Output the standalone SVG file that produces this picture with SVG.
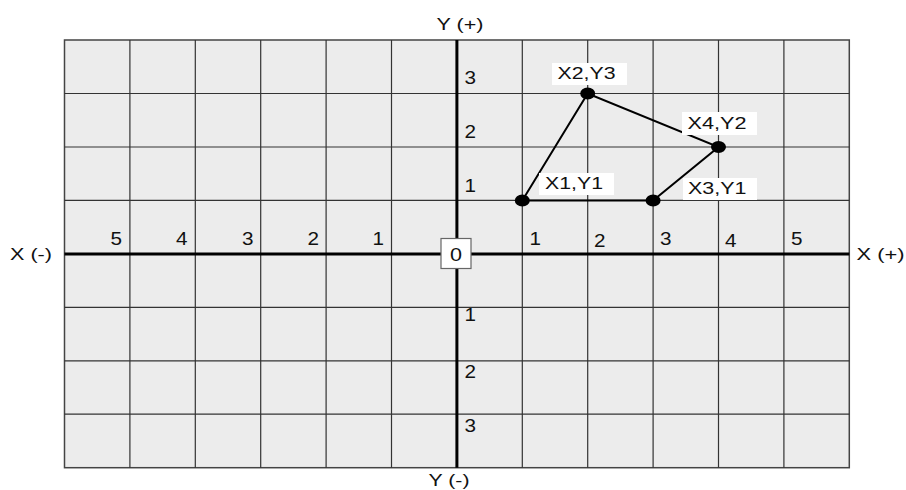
<svg xmlns="http://www.w3.org/2000/svg" width="906" height="490" viewBox="0 0 906 490">
<style>
.grid{stroke:#333;stroke-width:1.2;fill:none}
.axis{stroke:#000;stroke-width:3;fill:none}
.edge{stroke:#000;stroke-width:2;fill:none}
.dot{fill:#000}
.t{font-family:"Liberation Sans",Arial,sans-serif;fill:#111}
.n{font-size:18px}
.l{font-size:17px}
.lb{fill:#fff;stroke:none}
</style>
<rect width="906" height="490" fill="#fff"/>
<g id="grid">
<rect x="64.5" y="40" width="784.8" height="427.7" fill="#ececec" stroke="#444" stroke-width="1.5"/>
<path class="grid" d="M129.9 40V467.7M195.3 40V467.7M260.7 40V467.7M326.1 40V467.7M391.5 40V467.7M522.3 40V467.7M587.7 40V467.7M653.1 40V467.7M718.5 40V467.7M783.9 40V467.7M64.5 93.5H849.3M64.5 147H849.3M64.5 200.4H849.3M64.5 307.3H849.3M64.5 360.8H849.3M64.5 414.2H849.3"/>
<path class="axis" d="M456.9 40V467.7M64.5 253.9H849.3"/>
</g>
<g id="axis-labels" class="t l">
<text x="436.5" y="30" textLength="47" lengthAdjust="spacingAndGlyphs">Y (+)</text>
<text x="428.5" y="486" textLength="41" lengthAdjust="spacingAndGlyphs">Y (-)</text>
<text x="10" y="260" textLength="42" lengthAdjust="spacingAndGlyphs">X (-)</text>
<text x="856.5" y="260" textLength="48" lengthAdjust="spacingAndGlyphs">X (+)</text>
</g>
<g id="x-numbers" class="t n">
<text x="122" y="245" text-anchor="end" textLength="11.5" lengthAdjust="spacingAndGlyphs">5</text>
<text x="187.5" y="245" text-anchor="end" textLength="11.5" lengthAdjust="spacingAndGlyphs">4</text>
<text x="253.5" y="245" text-anchor="end" textLength="11.5" lengthAdjust="spacingAndGlyphs">3</text>
<text x="319" y="245" text-anchor="end" textLength="11.5" lengthAdjust="spacingAndGlyphs">2</text>
<text x="384" y="245" text-anchor="end" textLength="11.5" lengthAdjust="spacingAndGlyphs">1</text>
<text x="529.5" y="245" textLength="11.5" lengthAdjust="spacingAndGlyphs">1</text>
<text x="594" y="246.5" textLength="11.5" lengthAdjust="spacingAndGlyphs">2</text>
<text x="660" y="245" textLength="11.5" lengthAdjust="spacingAndGlyphs">3</text>
<text x="725" y="246.5" textLength="11.5" lengthAdjust="spacingAndGlyphs">4</text>
<text x="791" y="245" textLength="11.5" lengthAdjust="spacingAndGlyphs">5</text>
</g>
<g id="y-numbers" class="t n">
<text x="464.5" y="84" textLength="11.5" lengthAdjust="spacingAndGlyphs">3</text>
<text x="464.5" y="137.5" textLength="11.5" lengthAdjust="spacingAndGlyphs">2</text>
<text x="464.5" y="192" textLength="11.5" lengthAdjust="spacingAndGlyphs">1</text>
<text x="464.5" y="321" textLength="11.5" lengthAdjust="spacingAndGlyphs">1</text>
<text x="464.5" y="378" textLength="11.5" lengthAdjust="spacingAndGlyphs">2</text>
<text x="464.5" y="431.5" textLength="11.5" lengthAdjust="spacingAndGlyphs">3</text>
</g>
<g id="origin">
<rect x="441" y="238.5" width="30" height="30" fill="#fff" stroke="#666" stroke-width="1.2"/>
<text class="t n" x="450" y="260.5" textLength="12" lengthAdjust="spacingAndGlyphs">0</text>
</g>
<g id="connectors">
<path class="edge" d="M522.3 200.4L587.7 93.5L718.5 147L653.1 200.4Z"/>
</g>
<g id="p-x1y1">
<rect class="lb" x="539" y="173" width="75" height="22"/>
<ellipse class="dot" cx="522.3" cy="200.4" rx="7.5" ry="6"/>
<text class="t l" x="545" y="189" textLength="58" lengthAdjust="spacingAndGlyphs">X1,Y1</text>
</g>
<g id="p-x2y3">
<rect class="lb" x="552" y="63" width="75" height="22"/>
<ellipse class="dot" cx="587.7" cy="93.5" rx="7.5" ry="6"/>
<text class="t l" x="557.5" y="79" textLength="58" lengthAdjust="spacingAndGlyphs">X2,Y3</text>
</g>
<g id="p-x4y2">
<rect class="lb" x="682" y="112" width="75" height="23"/>
<ellipse class="dot" cx="718.5" cy="147" rx="7.5" ry="6"/>
<text class="t l" x="687.5" y="129" textLength="59" lengthAdjust="spacingAndGlyphs">X4,Y2</text>
</g>
<g id="p-x3y1">
<rect class="lb" x="683" y="178" width="74" height="22"/>
<ellipse class="dot" cx="653.1" cy="200.4" rx="7.5" ry="6"/>
<text class="t l" x="688" y="194" textLength="58.5" lengthAdjust="spacingAndGlyphs">X3,Y1</text>
</g>
</svg>
